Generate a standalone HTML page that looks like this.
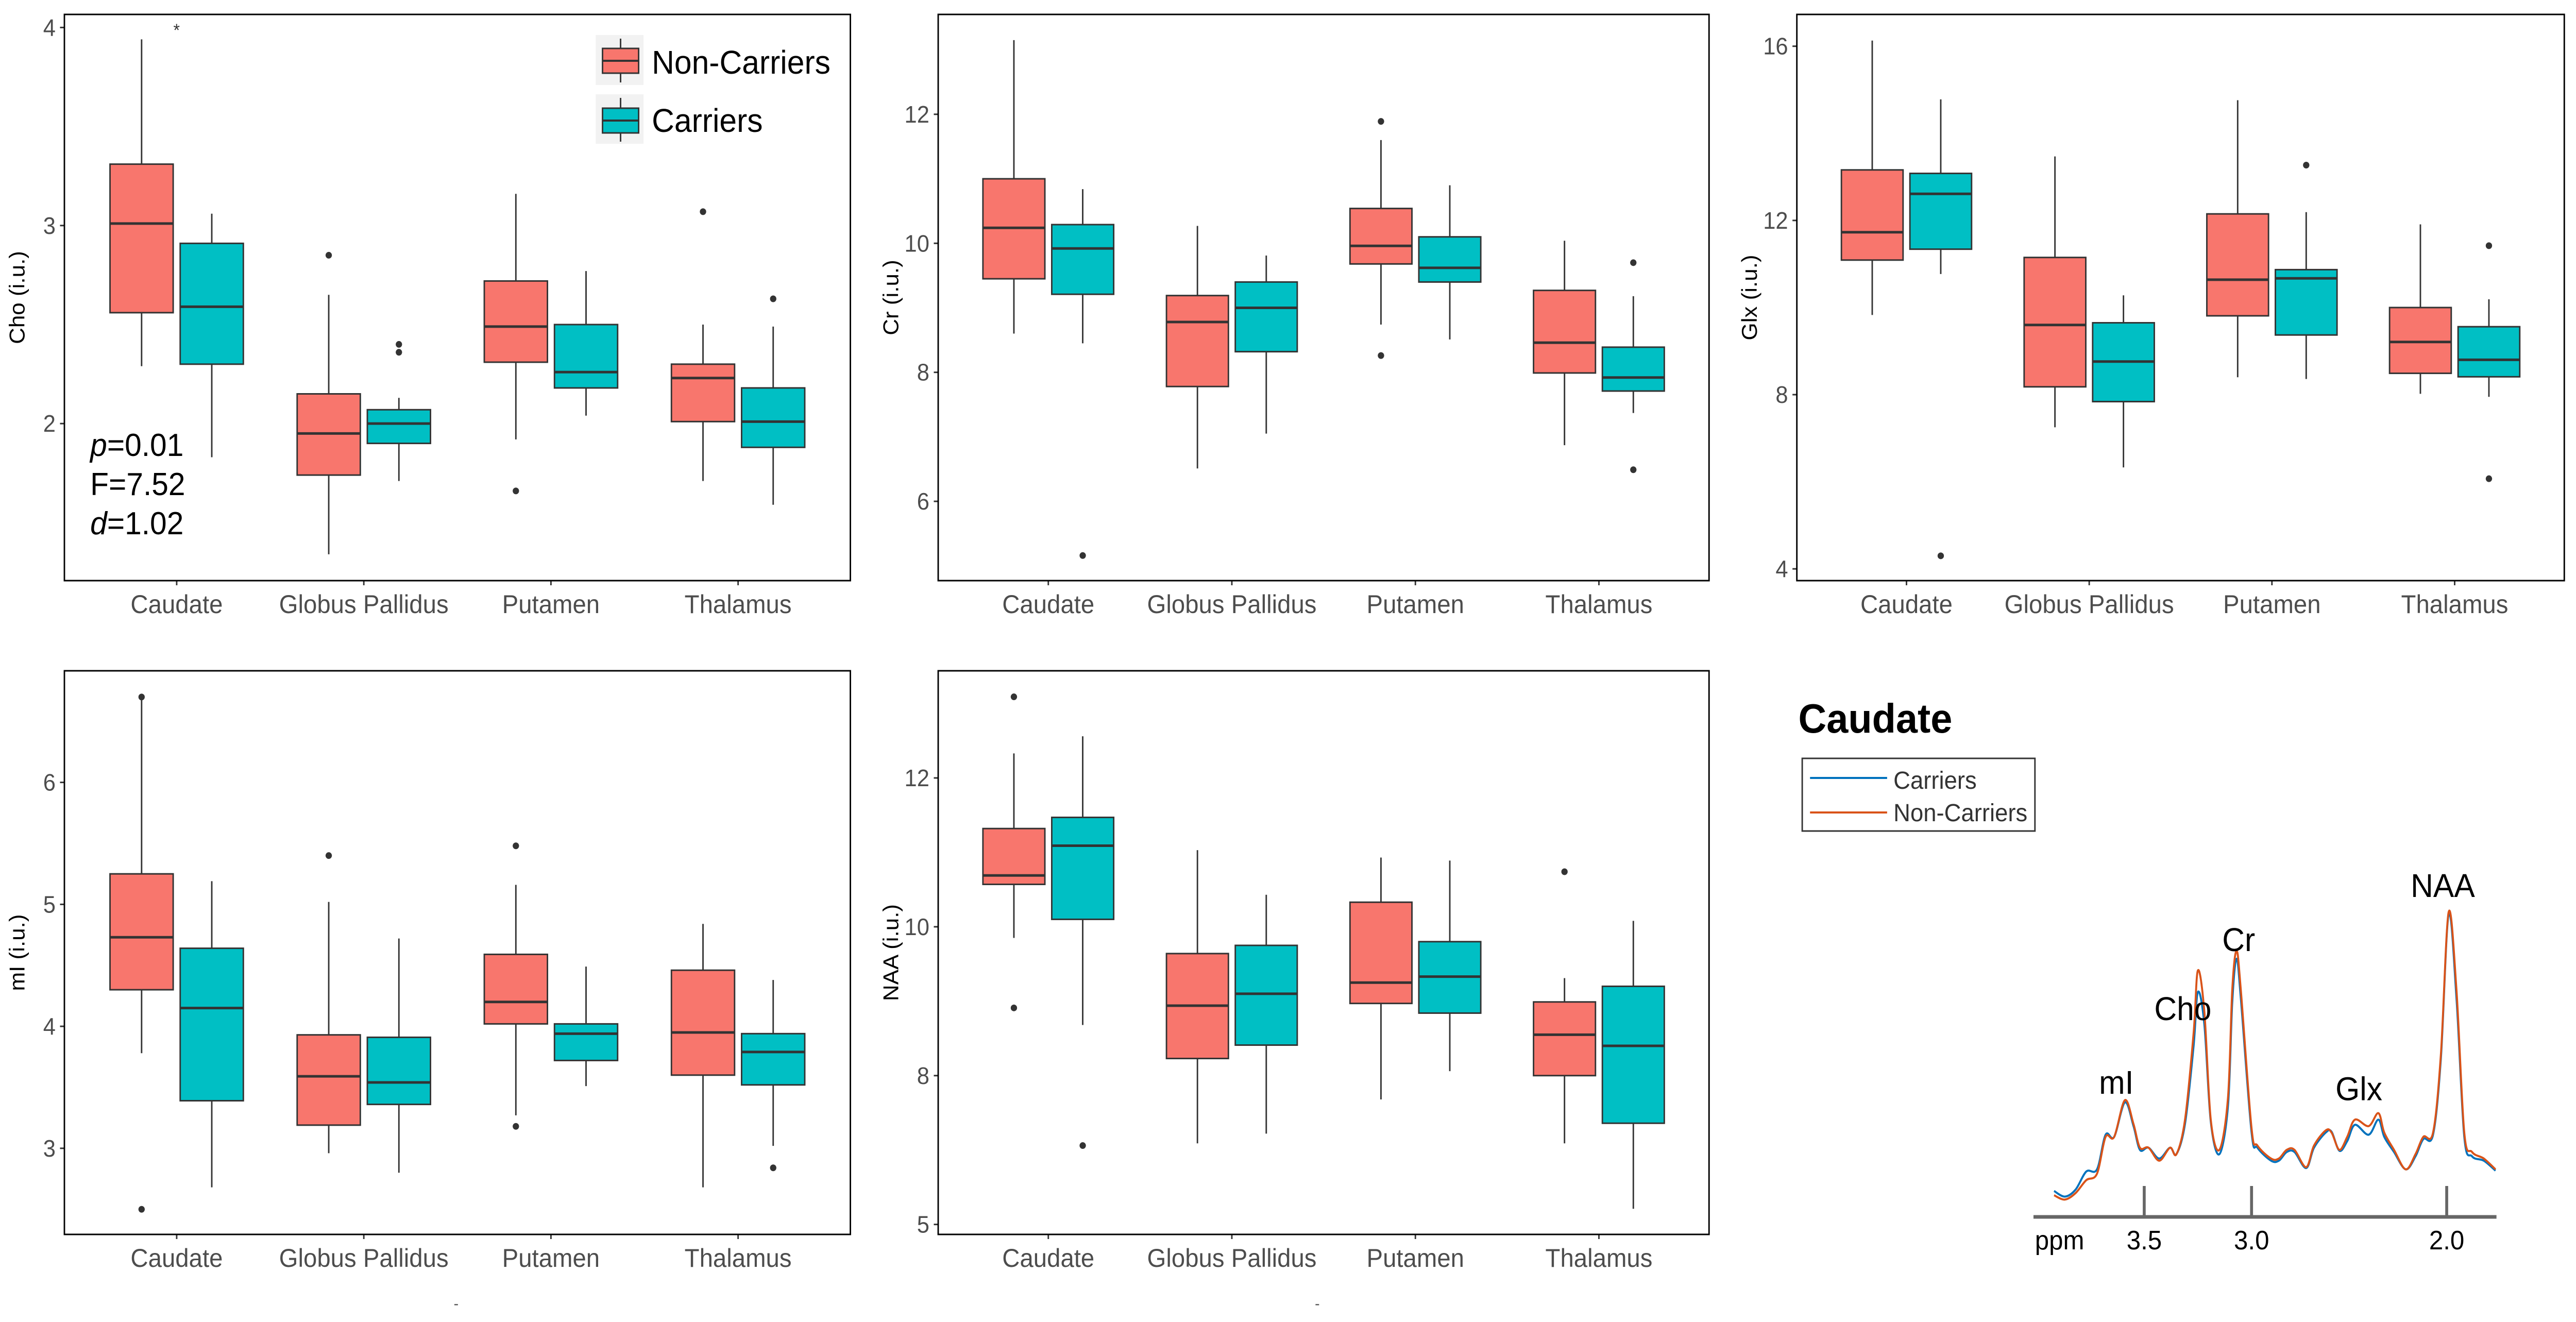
<!DOCTYPE html>
<html><head><meta charset="utf-8">
<style>
html,body{margin:0;padding:0;background:#fff;overflow:hidden;width:100%;height:100%;}
svg{display:block;font-family:"Liberation Sans",Arial,sans-serif;width:100vw;height:100vh;}
</style></head>
<body>
<svg id="fig" xmlns="http://www.w3.org/2000/svg" viewBox="0 0 5280 2566" preserveAspectRatio="none">
<rect x="0" y="0" width="5280" height="2566" fill="#fff"/>
<g id="legend">
  <rect x="1221" y="68" width="98" height="97" fill="#f2f2f2"/>
  <rect x="1221" y="183" width="98" height="96" fill="#f2f2f2"/>
  <line x1="1272" y1="75" x2="1272" y2="160" stroke="#333" stroke-width="3"/>
  <rect x="1235" y="94" width="74" height="48" fill="#F8766D" stroke="#333" stroke-width="3"/>
  <line x1="1235" y1="118" x2="1309" y2="118" stroke="#333" stroke-width="4"/>
  <line x1="1272" y1="190" x2="1272" y2="275" stroke="#333" stroke-width="3"/>
  <rect x="1235" y="210" width="74" height="48" fill="#00BFC4" stroke="#333" stroke-width="3"/>
  <line x1="1235" y1="234" x2="1309" y2="234" stroke="#333" stroke-width="4"/>
  <text x="1336" y="143" font-size="64" fill="#000">Non-Carriers</text>
  <text x="1336" y="256" font-size="64" fill="#000">Carriers</text>
</g>
<g font-size="62" fill="#000">
  <text x="185" y="885"><tspan font-style="italic">p</tspan>=0.01</text>
  <text x="185" y="961">F=7.52</text>
  <text x="185" y="1037"><tspan font-style="italic">d</tspan>=1.02</text>
</g>
<text x="362" y="70" font-size="34" text-anchor="middle" fill="#333">*</text>
<text x="935" y="2540" font-size="30" text-anchor="middle" fill="#555">-</text>
<text x="2700" y="2540" font-size="30" text-anchor="middle" fill="#555">-</text>

<g>
  <text x="3686" y="1422" font-size="80" font-weight="bold" fill="#000">Caudate</text>
  <rect x="3694" y="1472" width="477" height="141" fill="#fff" stroke="#333" stroke-width="3"/>
  <line x1="3710" y1="1510" x2="3868" y2="1510" stroke="#0072BD" stroke-width="4"/>
  <line x1="3710" y1="1577" x2="3868" y2="1577" stroke="#D95319" stroke-width="4"/>
  <text x="3881" y="1531" font-size="48" fill="#333">Carriers</text>
  <text x="3881" y="1594" font-size="48" fill="#333">Non-Carriers</text>
  <g id="spec"></g>
</g>
<g id="panels"></g>
</svg>
<script>
const NS = "http://www.w3.org/2000/svg";
const categories = ["Caudate","Globus Pallidus","Putamen","Thalamus"];

// Box stats per category: [lower whisker, Q1, median, Q3, upper whisker]
const choNC = [[2.29,2.56,3.01,3.31,3.94],[1.34,1.74,1.95,2.15,2.65],[1.92,2.31,2.49,2.72,3.16],[1.71,2.01,2.23,2.30,2.50]];
const choC  = [[1.83,2.30,2.59,2.91,3.06],[1.71,1.90,2.00,2.07,2.13],[2.04,2.18,2.26,2.50,2.77],[1.59,1.88,2.01,2.18,2.49]];
const choOutNC = [[1,2.85],[2,1.66],[3,3.07]];
const choOutC  = [[1,2.40],[1,2.36],[3,2.63]];
const choTicks = [2,3,4];

const crNC = [[8.60,9.45,10.24,11.00,13.15],[6.51,7.78,8.78,9.19,10.27],[8.74,9.68,9.96,10.54,11.60],[6.87,7.99,8.46,9.27,10.04]];
const crC  = [[8.45,9.21,9.92,10.29,10.84],[7.05,8.32,9.00,9.40,9.81],[8.51,9.40,9.62,10.10,10.90],[7.37,7.71,7.92,8.39,9.18]];
const crOutNC = [[2,11.89],[2,8.26]];
const crOutC  = [[0,5.16],[3,9.70],[3,6.49]];
const crTicks = [6,8,10,12];

const glxNC = [[9.83,11.09,11.73,13.16,16.13],[7.25,8.18,9.60,11.15,13.47],[8.40,9.81,10.64,12.15,14.76],[8.02,8.49,9.21,10.00,11.91]];
const glxC  = [[10.77,11.34,12.61,13.08,14.78],[6.33,7.84,8.76,9.65,10.28],[8.36,9.37,10.67,10.87,12.19],[7.95,8.41,8.80,9.56,10.19]];
const glxOutNC = [];
const glxOutC  = [[0,4.30],[2,13.27],[3,11.42],[3,6.07]];
const glxTicks = [4,8,12,16];

const miNC = [[3.78,4.30,4.73,5.25,6.68],[2.96,3.19,3.59,3.93,5.02],[3.27,4.02,4.20,4.59,5.16],[2.68,3.60,3.95,4.46,4.84]];
const miC  = [[2.68,3.39,4.15,4.64,5.19],[2.80,3.36,3.54,3.91,4.72],[3.51,3.72,3.94,4.02,4.49],[3.02,3.52,3.79,3.94,4.38]];
const miOutNC = [[0,6.70],[0,2.50],[1,5.40],[2,5.48],[2,3.18]];
const miOutC  = [[3,2.84]];
const miTicks = [3,4,5,6];

const naaNC = [[9.85,10.57,10.69,11.32,12.33],[7.09,8.23,8.94,9.64,11.03],[7.68,8.97,9.25,10.33,10.93],[7.09,8.00,8.55,8.99,9.31]];
const naaC  = [[8.68,10.10,11.09,11.47,12.56],[7.22,8.41,9.10,9.75,10.43],[8.06,8.84,9.33,9.80,10.89],[6.21,7.36,8.40,9.20,10.08]];
const naaOutNC = [[0,13.09],[0,8.91],[3,10.74]];
const naaOutC  = [[0,7.06]];
const naaTicks = [6,8,10,12];
const naaTickLabels = ["5","8","10","12"];

// Spectrum (Caudate)
const specPpm = [3.92,3.87,3.82,3.77,3.72,3.68,3.64,3.59,3.55,3.52,3.48,3.43,3.38,3.35,3.31,3.27,3.25,3.22,3.19,3.15,3.11,3.09,3.07,3.05,3.00,2.97,2.90,2.86,2.82,2.78,2.72,2.68,2.62,2.59,2.55,2.51,2.47,2.40,2.35,2.32,2.27,2.21,2.16,2.12,2.07,2.03,1.99,1.95,1.91,1.87,1.81,1.75];
const specNonCarriers = [50,40,55,85,100,185,185,270,215,160,160,130,160,145,225,425,570,475,225,155,275,525,615,525,205,165,135,135,155,155,115,165,200,195,155,185,225,210,240,195,155,110,145,185,195,375,705,525,195,150,135,110];
const specCarriers = [60,47,63,105,110,190,185,265,210,155,160,135,160,145,215,395,520,445,220,145,255,495,597,505,195,160,130,130,150,150,113,160,195,197,153,175,213,190,225,185,150,110,140,180,190,365,700,505,185,140,130,107];
const specTicks = [3.5,3.0,2.0];
const specTickLabels = ["3.5","3.0","2.0"];
const peakNames = ["mI","Cho","Cr","Glx","NAA"];
const peakPpm = [3.63,3.32,3.06,2.45,2.02];
const peakHeights = [285,455,615,270,740];

function mk(tag, attrs, parent){
  const el = document.createElementNS(NS, tag);
  for (const k in attrs) el.setAttribute(k, attrs[k]);
  parent.appendChild(el);
  return el;
}

const panelsG = document.getElementById('panels');

function panel(p){
  const g = mk('g', {}, panelsG);
  
  
  const w = p.right - p.left;
  const bw = w / 4.2;
  const y = v => p.bottom - (v - p.lo) / (p.hi - p.lo) * (p.bottom - p.top);
  const xc = i => p.left + (i + 0.6) * bw;
  const half = 0.16875 * bw;

  p.ticks.forEach((t, i) => {
    const ty = y(t);
    const tk = mk('line', {x1:p.left-9, x2:p.left, y1:ty, y2:ty, stroke:'#333', 'stroke-width':3}, g);
    
    
    const lb = mk('text', {x:p.left-18, y:ty+16, 'text-anchor':'end', 'font-size':46, fill:'#4d4d4d'}, g);
    
    
    lb.textContent = p.tickLabels ? p.tickLabels[i] : String(t);
  });
  const cy = (p.top + p.bottom) / 2;
  const tt = mk('text', {x:p.left-82, y:cy, 'text-anchor':'middle', 'font-size':44, fill:'#000', transform:'rotate(-90 ' + (p.left-82) + ' ' + cy + ')'}, g);
  
  
  tt.textContent = p.title;

  categories.forEach((c, i) => {
    const x = xc(i);
    const tk = mk('line', {x1:x, x2:x, y1:p.bottom, y2:p.bottom+9, stroke:'#333', 'stroke-width':3}, g);
    
    
    const lb = mk('text', {x:x, y:p.bottom+63, 'text-anchor':'middle', 'font-size':50, fill:'#4d4d4d'}, g);
    
    
    lb.textContent = c;
  });

  function boxes(stats, offset, color, grp){
    stats.forEach((s, i) => {
      const cx = xc(i) + offset * bw;
      const wl = mk('line', {x1:cx, x2:cx, y1:y(s[4]), y2:y(s[0]), stroke:'#333', 'stroke-width':3}, g);
      
      
      const r = mk('rect', {x:cx-half, y:y(s[3]), width:2*half, height:y(s[1])-y(s[3]), fill:color, stroke:'#333', 'stroke-width':3}, g);
      
      
      const m = mk('line', {x1:cx-half, x2:cx+half, y1:y(s[2]), y2:y(s[2]), stroke:'#333', 'stroke-width':5}, g);
      
      
    });
  }
  function outs(list, offset, grp){
    list.forEach(o => {
      const d = mk('circle', {cx:xc(o[0]) + offset*bw, cy:y(o[1]), r:6.5, fill:'#333'}, g);
      
      
    });
  }
  boxes(p.nc, -0.1875, '#F8766D', 'noncarriers');
  boxes(p.c, 0.1875, '#00BFC4', 'carriers');
  outs(p.ncOut, -0.1875, 'noncarriers');
  outs(p.cOut, 0.1875, 'carriers');

  const border = mk('rect', {x:p.left, y:p.top, width:w, height:p.bottom-p.top, fill:'none', stroke:'#000', 'stroke-width':3}, g);
  
  
}

panel({key:'cho', left:132, right:1743, top:28, bottom:1127, lo:1.207, hi:4.066, ticks:choTicks, title:'Cho (i.u.)', nc:choNC, c:choC, ncOut:choOutNC, cOut:choOutC});
panel({key:'cr', left:1923, right:3503, top:28, bottom:1127, lo:4.771, hi:13.548, ticks:crTicks, title:'Cr (i.u.)', nc:crNC, c:crC, ncOut:crOutNC, cOut:crOutC});
panel({key:'glx', left:3683, right:5256, top:28, bottom:1127, lo:3.73, hi:16.73, ticks:glxTicks, title:'Glx (i.u.)', nc:glxNC, c:glxC, ncOut:glxOutNC, cOut:glxOutC});
panel({key:'mi', left:132, right:1743, top:1302, bottom:2396, lo:2.294, hi:6.915, ticks:miTicks, title:'mI (i.u.)', nc:miNC, c:miC, ncOut:miOutNC, cOut:miOutC});
panel({key:'naa', left:1923, right:3503, top:1302, bottom:2396, lo:5.866, hi:13.44, ticks:naaTicks, tickLabels:naaTickLabels, title:'NAA (i.u.)', nc:naaNC, c:naaC, ncOut:naaOutNC, cOut:naaOutC});

const spec = document.getElementById('spec');
const axisY = 2362;
const ppmAnchors = [3.5, 3.0, 2.0];
const pxAnchors = [4395, 4615, 5015];
function sx(ppm){
  let i = ppm >= 3.0 ? 0 : 1;
  const p0 = ppmAnchors[i], p1 = ppmAnchors[i+1];
  return pxAnchors[i] + (ppm - p0) / (p1 - p0) * (pxAnchors[i+1] - pxAnchors[i]);
}
function sy(v){ return axisY - v / 1.1915; }
function smoothPath(xs, ys){
  let d = 'M' + xs[0] + ',' + ys[0];
  for (let i = 0; i < xs.length - 1; i++){
    const x0 = xs[Math.max(i-1,0)], y0 = ys[Math.max(i-1,0)];
    const x1 = xs[i], y1 = ys[i], x2 = xs[i+1], y2 = ys[i+1];
    const x3 = xs[Math.min(i+2,xs.length-1)], y3 = ys[Math.min(i+2,xs.length-1)];
    const c1x = x1 + (x2-x0)/6, c1y = y1 + (y2-y0)/6;
    const c2x = x2 - (x3-x1)/6, c2y = y2 - (y3-y1)/6;
    d += ' C' + c1x.toFixed(1) + ',' + c1y.toFixed(1) + ' ' + c2x.toFixed(1) + ',' + c2y.toFixed(1) + ' ' + x2.toFixed(1) + ',' + y2.toFixed(1);
  }
  return d;
}
const xsArr = specPpm.map(sx);
const lineC = mk('path', {d:smoothPath(xsArr, specCarriers.map(sy)), fill:'none', stroke:'#0072BD', 'stroke-width':4}, spec);


const lineN = mk('path', {d:smoothPath(xsArr, specNonCarriers.map(sy)), fill:'none', stroke:'#D95319', 'stroke-width':4}, spec);



const axisL = mk('line', {x1:4168, x2:5117, y1:axisY, y2:axisY, stroke:'#666', 'stroke-width':7}, spec);


specTicks.forEach((t, i) => {
  const tk = mk('line', {x1:sx(t), x2:sx(t), y1:axisY-60, y2:axisY, stroke:'#666', 'stroke-width':6}, spec);
  
  
  const lb = mk('text', {x:sx(t), y:2425, 'text-anchor':'middle', 'font-size':52, fill:'#000'}, spec);
  
  
  lb.textContent = specTickLabels[i];
});
const ppmL = mk('text', {x:4171, y:2425, 'font-size':52, fill:'#000'}, spec);


ppmL.textContent = 'ppm';
peakNames.forEach((n, i) => {
  const t = mk('text', {x:sx(peakPpm[i]), y:sy(peakHeights[i]), 'text-anchor':'middle', 'font-size':64, fill:'#000'}, spec);
  
  
  t.textContent = n;
});
</script>
</body></html>
